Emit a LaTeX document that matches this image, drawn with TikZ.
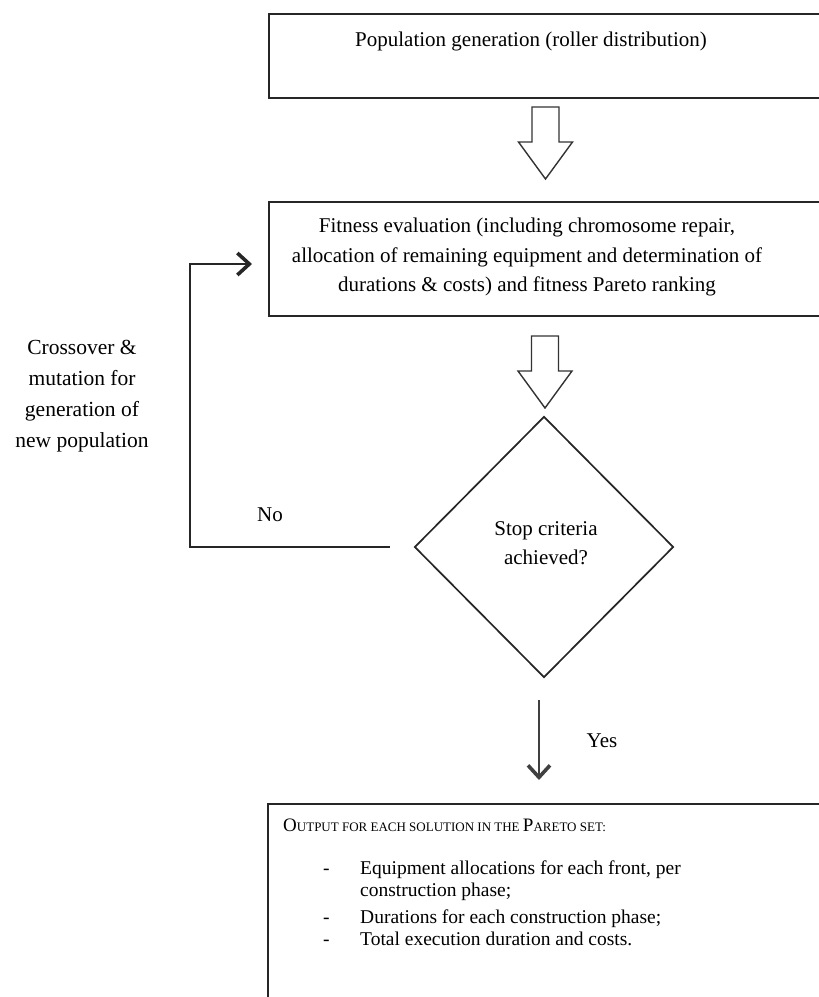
\documentclass[tikz,border=0pt]{standalone}
\usepackage{fontspec}
\setmainfont{Liberation Serif}
\usetikzlibrary{shapes.geometric,arrows.meta,calc}
\tikzset{
  box/.style={draw=black!85, line width=2pt, rectangle, inner sep=0pt, anchor=north west},
  txt/.style={font=\fontsize{21}{29.5}\selectfont, align=center, inner sep=0pt, text=black},
  hollow/.style={draw=black!80, line width=1.4pt, fill=white, line join=miter},
  flow/.style={draw=black!85, line width=1.8pt, -{Straight Barb[length=12pt,width=22pt,line width=3.6pt 0 1]}},
}
\newcommand\myhollowarrow[1]{%
  \draw[hollow] (#1) ++(-13.5,0) -- ++(27,0) -- ++(0,35) -- ++(13.5,0) -- ++(-27,37) -- ++(-27,-37) -- ++(13.5,0) -- cycle;}
\begin{document}
\begin{tikzpicture}[x=1pt,y=-1pt]
\useasboundingbox (0,0) rectangle (819,997);
\clip (0,0) rectangle (819,997);

% top box
\node[box, minimum width=570pt, minimum height=84pt] (pop) at (268,13) {};
\node[txt] (poptxt) at (531,41) {Population generation (roller distribution)};

% hollow arrow 1
\coordinate (h1) at (545.5,107);
\myhollowarrow{h1}

% fitness box
\node[box, minimum width=570pt, minimum height=114pt] (fit) at (268,201) {};
\node[txt] (fittxt) at (527,257) {Fitness evaluation (including chromosome repair,\\allocation of remaining equipment and determination of\\durations \& costs) and fitness Pareto ranking};

% hollow arrow 2
\coordinate (h2) at (545,336);
\myhollowarrow{h2}

% diamond
\node[diamond, draw=black!85, line width=1.7pt, minimum width=259pt, minimum height=261pt, inner sep=0pt] (stop) at (544,547) {};
\node[txt, font=\fontsize{21}{29}\selectfont] (stoptxt) at (546,543) {Stop criteria\\achieved?};

% loop back
\draw[flow, shorten <=24pt, shorten >=16pt] (stop.west) -- (190,547) |- ([yshift=-5pt]fit.west);
\node[txt] (no) at (270,515) {No};
\node[txt, font=\fontsize{21.5}{31}\selectfont] (cross) at (82,396) {Crossover \&\\mutation for\\generation of\\new population};

% output box
\node[box, minimum width=570pt, minimum height=220pt] (out) at (267,803) {};

% yes arrow
\draw[flow, draw=black!75, shorten <=22pt, shorten >=23pt] ([xshift=-5pt]stop.south) -- ([xshift=-5pt]stop.south |- out.north);
\node[txt] (yes) at (602,741) {Yes};

\node[anchor=north west, align=left, inner sep=0pt, font=\fontsize{19.5}{22}\selectfont] (outtxt) at (283,819) {%
{\fontsize{19}{22}\selectfont O}{\fontsize{13}{22}\selectfont UTPUT FOR EACH SOLUTION IN THE }{\fontsize{19}{22}\selectfont P}{\fontsize{13}{22}\selectfont ARETO SET:}\\[21pt]
\hspace*{40pt}\makebox[37pt][l]{-}Equipment allocations for each front, per\\
\hspace*{77pt}construction phase;\\[5pt]
\hspace*{40pt}\makebox[37pt][l]{-}Durations for each construction phase;\\
\hspace*{40pt}\makebox[37pt][l]{-}Total execution duration and costs.};
\end{tikzpicture}
\end{document}
